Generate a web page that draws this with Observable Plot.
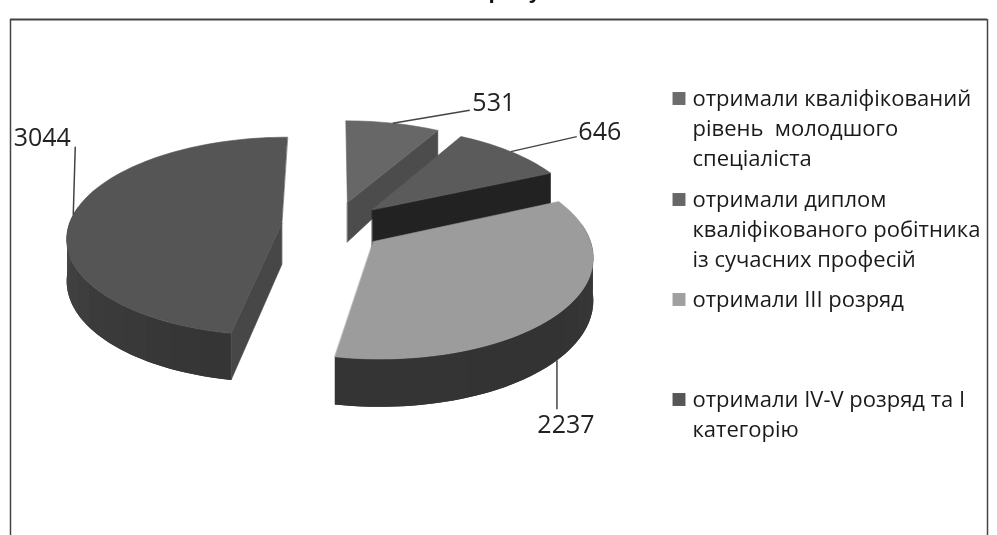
<!DOCTYPE html>
<html><head><meta charset="utf-8">
<style>html,body{margin:0;padding:0;background:#fff;overflow:hidden}svg{display:block;filter:blur(.6px)}</style>
<script src="https://cdn.jsdelivr.net/npm/d3@7"></script>
<script src="https://cdn.jsdelivr.net/npm/@observablehq/plot@0.6"></script>
</head><body>
<script>
// --- data ---
const categories = [
  "отримали кваліфікований\nрівень  молодшого\nспеціаліста",
  "отримали диплом\nкваліфікованого робітника\nіз сучасних професій",
  "отримали III розряд",
  "отримали IV-V розряд та I\nкатегорію"
];
const values = [531, 646, 2237, 3044];
const chartTitle = "рисунок";

// --- style and layout of the 3D pie ---
const topColors = ["#676767", "#5b5b5b", "#9c9c9c", "#555555"];
const cutColors = ["#4c4c4c", "#222222", null, "#474747"];
const cutEdge = ["end", "end", null, "start"];
const explode = [56, 55, 52, 49];
const nudgeX = [3, 2, 1, 0];
const nudgeY = [1, 1, 1, 0];
const legendColors = ["#6c6c6c", "#676767", "#a0a0a0", "#565656"];
const legendY = [98, 199, 299, 399];
const anchorShift = [0, 0, 3, 0];
const labelDx = [101, 89, 9, -31];
const labelDy = [-20, -20, 65, -77];
const leaderDx = [77, 66, 0, 2];
const leaderDy = [-13, -15, 49, -68];
const Cx = 330, Cy = 225, R = 213, q = 0.46, k = 0.00061;

const deg = Math.PI / 180;
const depthOf = d3.scaleLinear([0.868, 0.928, 0.97, 1.18], [27, 32, 40, 48]);
const wallShade = d3.scaleLinear([80, 130, 190, 230, 280], ["#3d3d3d", "#333333", "#343434", "#3b3b3b", "#4a4a4a"]);

const slices = d3.pie().sort(null).startAngle(0).endAngle(2 * Math.PI)(values);

function project(i, a, r) {
  const mid = (slices[i].startAngle + slices[i].endAngle) / 2;
  const X = explode[i] * Math.sin(mid) + r * Math.sin(a);
  const Y = explode[i] * Math.cos(mid) + r * Math.cos(a);
  const s = 1 / (1 + k * Y);
  return {x: Cx + nudgeX[i] + X * s, y: Cy + nudgeY[i] - q * Y * s, d: depthOf(s)};
}
const down = (p) => ({x: p.x, y: p.y + p.d});

const wallBase = [], strips = [], faces = [];
function addFace(list, id, fill, pts) {
  for (const p of pts) list.push({face: id, fill, x: p.x, y: p.y});
}
slices.forEach((sl, i) => {
  const a0 = sl.startAngle, a1 = sl.endAngle;
  const apex = project(i, 0, 0);
  const lo = Math.max(a0 / deg, 80), hi = Math.min(a1 / deg, 280);
  if (hi > lo) {
    const whole = d3.range(0, 41).map((m) => project(i, (lo + (hi - lo) * m / 40) * deg, R));
    addFace(wallBase, `b${i}`, "#383838", [...whole, ...whole.slice().reverse().map(down)]);
    const n = Math.ceil((hi - lo) / 8);
    for (let j = 0; j < n; j++) {
      const t0 = lo + (hi - lo) * j / n, t1 = lo + (hi - lo) * (j + 1) / n;
      const arc = d3.range(0, 5).map((m) => project(i, (t0 + (t1 - t0) * m / 4) * deg, R));
      addFace(strips, `w${i}-${j}`, d3.color(wallShade((t0 + t1) / 2)).formatHex(), [...arc, ...arc.slice().reverse().map(down)]);
    }
  }
  if (cutEdge[i]) {
    const e = project(i, cutEdge[i] === "end" ? a1 : a0, R);
    addFace(faces, `c${i}`, cutColors[i], [apex, e, down(e), down(apex)]);
  }
  const steps = Math.ceil((a1 - a0) / deg / 2);
  const rim = d3.range(0, steps + 1).map((m) => project(i, a0 + (a1 - a0) * m / steps, R));
  addFace(faces, `t${i}`, topColors[i], [apex, ...rim]);
});

// value labels + leaders, anchored on the middle of each slice's rim
const anchors = slices.map((sl, i) => {
  const mid = (sl.startAngle + sl.endAngle) / 2 + anchorShift[i] * deg;
  const p = project(i, mid, R);
  const front = Math.cos(mid) < 0 && Math.abs(Math.sin(mid)) < 0.9;
  const b = front ? down(p) : p;
  return {value: values[i], x: b.x, y: b.y, x2: b.x + leaderDx[i], y2: b.y + leaderDy[i], tx: b.x + labelDx[i], ty: b.y + labelDy[i]};
});

const legend = categories.map((c, i) => ({c, color: legendColors[i], y: legendY[i], ty: legendY[i] - 14}));

const chart = Plot.plot({
  width: 997, height: 535,
  margin: 0,
  x: {domain: [0, 997], range: [0, 997], axis: null},
  y: {domain: [0, 535], range: [0, 535], axis: null},
  style: {background: "#fff"},
  marks: [
    Plot.ruleX([10, 987], {y1: 19, y2: 535, stroke: "#444", strokeWidth: 1.5}),
    Plot.ruleY([19], {x1: 10, x2: 987, stroke: "#444", strokeWidth: 2}),
    Plot.text([chartTitle], {x: 488, y: -3, text: (d) => d, textAnchor: "start", lineAnchor: "bottom", fontSize: 22.5, fontWeight: "bold", fontFamily: "Liberation Sans", fill: "#111"}),
    Plot.line(wallBase, {x: "x", y: "y", z: "face", fill: "fill", stroke: "none", curve: "linear-closed"}),
    Plot.line(strips, {x: "x", y: "y", z: "face", fill: "fill", stroke: "none", curve: "linear-closed"}),
    Plot.line(faces, {x: "x", y: "y", z: "face", fill: "fill", stroke: "fill", strokeWidth: 0.6, curve: "linear-closed"}),
    Plot.link(anchors, {x1: "x", y1: "y", x2: "x2", y2: "y2", stroke: "#444", strokeWidth: 1.5}),
    Plot.text(anchors, {x: "tx", y: "ty", text: (d) => String(d.value), fontSize: 25, fontFamily: "Open Sans", fill: "#222"}),
    Plot.dot(legend, {x: 678.5, y: "y", symbol: "square", r: 7.3, fill: "color", stroke: "none"}),
    Plot.text(legend, {x: 692, y: "ty", text: "c", textAnchor: "start", lineAnchor: "top", fontSize: 22, lineHeight: 1.37, fontFamily: "Open Sans", fill: "#1a1a1a"})
  ]
});
document.body.append(chart);
</script>
</body></html>
